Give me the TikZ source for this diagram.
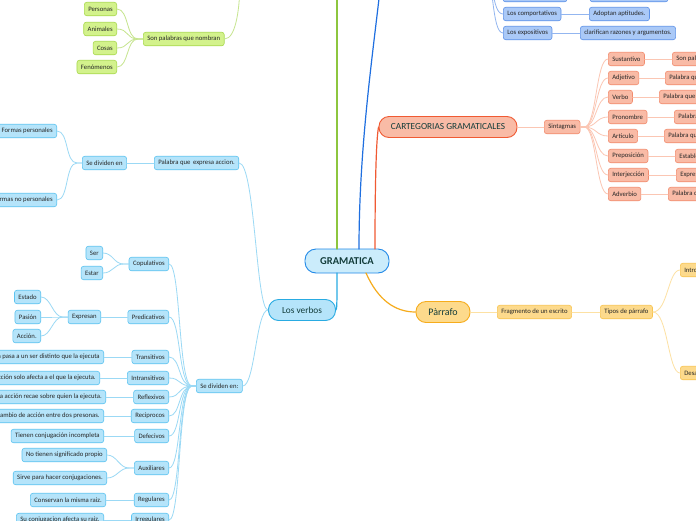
\documentclass[tikz,border=0pt]{standalone}
\usepackage{fontspec}
\setmainfont{Carlito}
\definecolor{gnfill}{HTML}{D3F28C}
\definecolor{gnline}{HTML}{A9D94E}
\definecolor{gnlink}{HTML}{C6E58E}
\definecolor{gnmain}{HTML}{8DC63F}
\definecolor{cyfill}{HTML}{B5E4FA}
\definecolor{cyline}{HTML}{5CC3F0}
\definecolor{cylink}{HTML}{9BD9F5}
\definecolor{cymain}{HTML}{29ABE2}
\definecolor{blfill}{HTML}{AAC9F7}
\definecolor{blline}{HTML}{5E92E8}
\definecolor{bllink}{HTML}{93B6F0}
\definecolor{blmain}{HTML}{1F6FE0}
\definecolor{rdfill}{HTML}{F9BBA6}
\definecolor{rdline}{HTML}{F28C6E}
\definecolor{rdlink}{HTML}{FBC6B3}
\definecolor{rdmain}{HTML}{F05A33}
\definecolor{ylfill}{HTML}{FDDA8C}
\definecolor{ylline}{HTML}{F8C450}
\definecolor{yllink}{HTML}{FDE1A3}
\definecolor{ylmain}{HTML}{F6AC1C}
\definecolor{hdtext}{HTML}{123C3A}
\tikzset{
    leaf/.style={draw, rounded corners=2.5pt, line width=0.6pt, inner xsep=4pt, inner ysep=0pt,
        minimum height=13.5pt, font=\fontsize{6.7}{7.5}\selectfont, text=black!85},
    gn/.style={leaf, fill=gnfill, draw=gnline},
    cy/.style={leaf, fill=cyfill, draw=cyline},
    bl/.style={leaf, fill=blfill, draw=blline},
    rd/.style={leaf, fill=rdfill, draw=rdline},
    yl/.style={leaf, fill=ylfill, draw=ylline},
    head/.style={draw, rounded corners=10pt, line width=0.9pt, minimum height=21pt, inner sep=0pt,
        font=\fontsize{9.3}{11}\selectfont, text=hdtext},
    gnl/.style={draw=gnlink, line width=0.8pt},
    cyl/.style={draw=cylink, line width=0.8pt},
    bll/.style={draw=bllink, line width=0.8pt},
    rdl/.style={draw=rdlink, line width=0.8pt},
    yll/.style={draw=yllink, line width=0.8pt},
}
\begin{document}
\begin{tikzpicture}[x=1pt, y=-1pt, line cap=round]
    \clip (0,0) rectangle (696,520);
    \fill[white] (0,0) rectangle (696,520);

    % centre and main branches
    \node[head, fill=cyfill!70, draw=cymain!80!blue, minimum width=84pt, minimum height=24pt,
        rounded corners=11pt, font=\fontsize{10.5}{12}\selectfont\bfseries] (gram) at (347,261) {GRAMATICA};
    \node[head, fill=cyfill, draw=cymain, minimum width=67pt] (verbos) at (302,310) {Los verbos};
    \node[head, fill=rdfill, draw=rdmain, minimum width=138pt] (cat) at (448,127) {CARTEGORIAS GRAMATICALES};
    \node[head, fill=ylfill, draw=ylmain, minimum width=54pt, font=\fontsize{10}{12}\selectfont] (parr) at (443,312) {Pàrrafo};
    \coordinate (gtop) at (337,-10);
    \coordinate (btop) at (380,-10);

    \draw[gnmain, line width=1.2pt] (337,249) -- (gtop);
    \draw[blmain, line width=1.2pt] (359,249) .. controls (359,150) and (372,60) .. (btop);
    \draw[rdmain, line width=1.2pt] (375,249) .. controls (375,190) and (376,140) .. (cat.west);
    \draw[ylmain, line width=1.2pt] (366,273) .. controls (378,300) and (395,312) .. (parr.west);
    \draw[cymain, line width=1.2pt] (337,273) .. controls (337,300) and (337,310) .. (verbos.east);

    % green branch
    \node[gn, anchor=west] (nombran) at (143,39) {Son palabras que nombran};
    \node[gn, anchor=east] (personas) at (117,9) {Personas};
    \node[gn, anchor=east] (animales) at (117,29) {Animales};
    \node[gn, anchor=east] (cosas) at (117,48) {Cosas};
    \node[gn, anchor=east] (fenom) at (117,67) {Fenómenos};
    \coordinate (gpar) at (240,-20);
    \draw[gnl] (nombran.east) .. controls +(12,0) and +(0,25) .. (gpar);
    \foreach \c in {personas,animales,cosas,fenom}
        \draw[gnl] (nombran.west) -- ++(-5,0) .. controls +(-12,0) and +(12,0) .. (\c.east);

    % blue branch
    \node[bl, minimum width=64pt] (bt1) at (535,-5) {};
    \node[bl, minimum width=78pt] (bt2) at (629,-5) {};
    \node[bl, anchor=west] (comport) at (503,14) {Los comportativos};
    \node[bl, anchor=west] (aptit) at (589,14) {Adoptan aptitudes.};
    \node[bl, anchor=west] (exposit) at (503,33) {Los expositivos};
    \node[bl, anchor=west] (clarif) at (580,33) {clarifican razones y argumentos.};
    \coordinate (bpar) at (484,-30);
    \foreach \c in {bt1,comport,exposit}
        \draw[bll] (bpar) .. controls +(10,0) and +(-12,0) .. (\c.west);
    \draw[bll] (bt1.east) -- (bt2.west);
    \draw[bll] (comport.east) -- (aptit.west);
    \draw[bll] (exposit.east) -- (clarif.west);

    % red branch
    \node[rd, anchor=west] (sintag) at (544,127) {Sintagmas};
    \draw[rdl] (cat.east) -- (sintag.west);
    \foreach \n/\y/\t/\gx/\g in {sust/59/Sustantivo/672/Son palabras que nombran,
            adj/78/Adjetivo/665/Palabra que califica,
            verb/97/Verbo/659/Palabra que expresa acción,
            pron/117/Pronombre/674/Palabra que sustituye,
            art/136/Articulo/664/Palabra que acompaña,
            prep/156/Preposición/675/Establece relaciones,
            intj/175/Interjección/676/Expresa emociones,
            adv/194/Adverbio/668/Palabra que modifica} {
        \node[rd, anchor=west] (\n) at (608,\y) {\t};
        \node[rd, anchor=west] (\n d) at (\gx,\y) {\g};
        \draw[rdl] (sintag.east) -- ++(4,0) .. controls +(12,0) and +(-12,0) .. (\n.west);
        \draw[rdl] (\n.east) -- (\n d.west);
    }

    % yellow branch
    \node[yl, anchor=west] (fragm) at (497,312) {Fragmento de un escrito};
    \node[yl, anchor=west] (tipos) at (600,312) {Tipos de párrafo};
    \node[yl, anchor=west] (intro) at (680,270) {Introducción};
    \node[yl, anchor=west] (desarr) at (680,373) {Desarrollo};
    \draw[yll] (parr.east) -- (fragm.west);
    \draw[yll] (fragm.east) -- (tipos.west);
    \foreach \c in {intro,desarr}
        \draw[yll] (tipos.east) .. controls +(15,0) and +(-12,0) .. (\c.west);

    % cyan branch
    \node[cy, anchor=west] (accion) at (154,163) {Palabra que\, expresa accion.};
    \node[cy, anchor=west] (divide) at (82,163) {Se dividen en};
    \node[cy, anchor=east] (fpers) at (57,131) {Formas personales};
    \node[cy, anchor=east] (fnopers) at (57,200) {Formas no personales};
    \node[cy, anchor=west] (dividen) at (196,386) {Se dividen en:};
    \draw[cyl] (verbos.west) .. controls (256,310) and (255,163) .. (accion.east);
    \draw[cyl] (verbos.west) .. controls (256,310) and (255,386) .. (dividen.east);
    \draw[cyl] (accion.west) -- (divide.east);
    \foreach \c in {fpers,fnopers}
        \draw[cyl] (divide.west) -- ++(-5,0) .. controls +(-12,0) and +(12,0) .. (\c.east);

    \foreach \n/\y/\t in {copul/264/Copulativos, predic/317/Predicativos, trans/357/Transitivos,
            intrans/378/Intransitivos, reflex/397/Reflexivos, recip/416/Reciprocos,
            defec/436/Defecivos, auxil/468/Auxiliares, regul/500/Regulares, irreg/520/Irregulares} {
        \node[cy, anchor=east] (\n) at (169,\y) {\t};
        \draw[cyl] (dividen.west) -- ++(-4,0) .. controls +(-14,0) and +(12,0) .. (\n.east);
    }

    \node[cy, anchor=east] (ser) at (103,253) {Ser};
    \node[cy, anchor=east] (estar) at (103,273) {Estar};
    \node[cy, anchor=east] (expresan) at (101,317) {Expresan};
    \node[cy, anchor=east] (estado) at (41,297) {Estado};
    \node[cy, anchor=east] (pasion) at (41,317) {Pasión};
    \node[cy, anchor=east] (acc) at (41,336) {Acción.};
    \foreach \c in {ser,estar}
        \draw[cyl] (copul.west) -- ++(-5,0) .. controls +(-10,0) and +(10,0) .. (\c.east);
    \draw[cyl] (predic.west) -- (expresan.east);
    \foreach \c in {estado,pasion,acc}
        \draw[cyl] (expresan.west) -- ++(-5,0) .. controls +(-10,0) and +(10,0) .. (\c.east);

    \foreach \n/\x/\y/\t in {trans/104/357/La acción pasa a un ser distinto que la ejecuta,
            intrans/100/378/La acción solo afecta a el que la ejecuta.,
            reflex/106/397/La acción recae sobre quien la ejecuta.,
            recip/104/416/Intercambio de acción entre dos presonas.,
            defec/104/436/Tienen conjugación incompleta,
            regul/106/500/Conservan la misma raiz.,
            irreg/104/520/Su conjugacion afecta su raiz.} {
        \node[cy, anchor=east] (\n d) at (\x,\y) {\t};
        \draw[cyl] (\n.west) -- (\n d.east);
    }
    \node[cy, anchor=east] (sinsig) at (107,455) {No tienen significado propio};
    \node[cy, anchor=east] (sirve) at (107,478) {Sirve para hacer conjugaciones.};
    \foreach \c in {sinsig,sirve}
        \draw[cyl] (auxil.west) -- ++(-5,0) .. controls +(-10,0) and +(10,0) .. (\c.east);
\end{tikzpicture}
\end{document}
